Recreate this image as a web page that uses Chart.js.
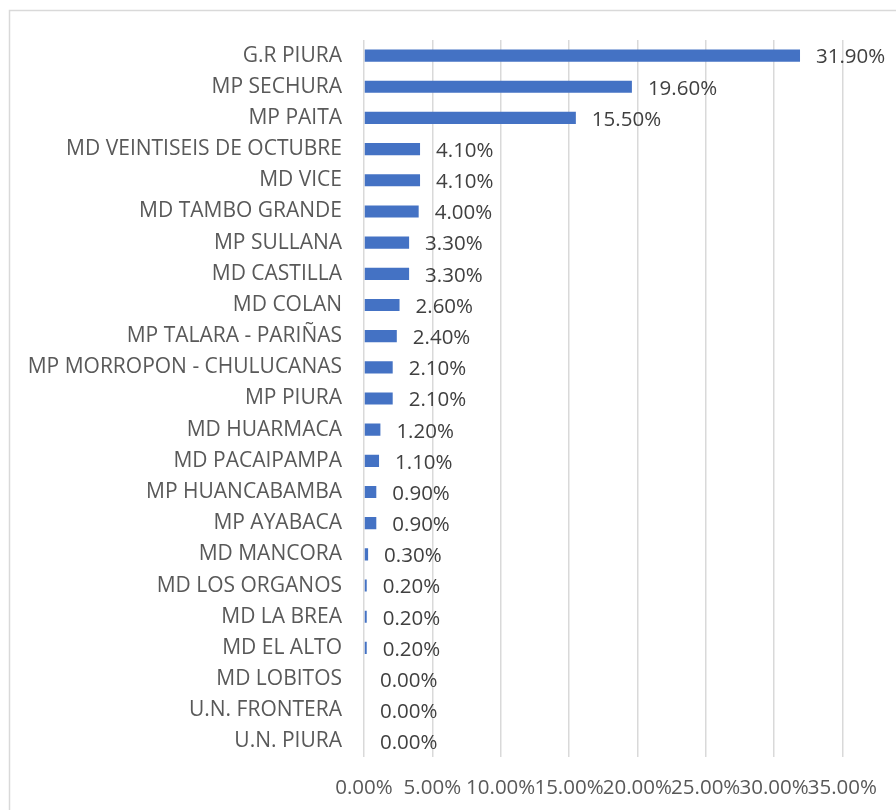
<!DOCTYPE html>
<html>
<head>
<meta charset="utf-8">
<script src="https://cdn.jsdelivr.net/npm/chart.js@4/dist/chart.umd.min.js"></script>
<style>
html,body{margin:0;padding:0;background:#fff;}
#wrap{position:relative;width:896px;height:810px;}
</style>
</head>
<body>
<div id="wrap"><canvas id="c" width="896" height="810"></canvas></div>
<script>
const categories = ["G.R PIURA","MP SECHURA","MP PAITA","MD VEINTISEIS DE OCTUBRE","MD VICE","MD TAMBO GRANDE","MP SULLANA","MD CASTILLA","MD COLAN","MP TALARA - PARIÑAS","MP MORROPON - CHULUCANAS","MP PIURA","MD HUARMACA","MD PACAIPAMPA","MP HUANCABAMBA","MP AYABACA","MD MANCORA","MD LOS ORGANOS","MD LA BREA","MD EL ALTO","MD LOBITOS","U.N. FRONTERA","U.N. PIURA"];
const values = [31.9,19.6,15.5,4.1,4.1,4.0,3.3,3.3,2.6,2.4,2.1,2.1,1.2,1.1,0.9,0.9,0.3,0.2,0.2,0.2,0,0,0];
const xTicks = [0,5,10,15,20,25,30,35];

const FONT = "'Open Sans', Lato, sans-serif";

const borderPlugin = {
  id: 'frame',
  beforeDraw(chart){
    const ctx = chart.ctx;
    ctx.save();
    ctx.fillStyle = '#fff';
    ctx.fillRect(0,0,chart.width,chart.height);
    ctx.strokeStyle = '#d9d9d9';
    ctx.lineWidth = 1.5;
    ctx.strokeRect(9.5,10.5,1000,1000);
    ctx.restore();
  }
};

const labelPlugin = {
  id: 'vlabels',
  afterDatasetsDraw(chart){
    const ctx = chart.ctx;
    const meta = chart.getDatasetMeta(0);
    const xs = chart.scales.x;
    ctx.save();
    ctx.font = "20.5px " + FONT;
    ctx.fillStyle = '#404040';
    ctx.textAlign = 'left';
    ctx.textBaseline = 'middle';
    meta.data.forEach((bar,i)=>{
      const v = values[i];
      const x = xs.getPixelForValue(v) + 16;
      ctx.fillText(v.toFixed(2) + '%', x, bar.y + 2);
    });
    ctx.restore();
  }
};

new Chart(document.getElementById('c'), {
  type: 'bar',
  data: {
    labels: categories,
    datasets: [{
      data: values,
      backgroundColor: '#4472C4',
      borderWidth: 0,
      barPercentage: 0.39,
      categoryPercentage: 1.0
    }]
  },
  options: {
    indexAxis: 'y',
    responsive: false,
    animation: false,
    layout: { padding: { top: 40, right: 49, bottom: 0, left: 0 } },
    plugins: { legend: { display: false }, tooltip: { enabled: false } },
    scales: {
      x: {
        min: 0, max: 35,
        afterBuildTicks(scale){ scale.ticks = xTicks.map(v=>({value:v})); },
        afterFit(scale){ scale.height = 53; },
        grid: { color: '#d9d9d9', lineWidth: 1.5, drawTicks: false },
        border: { display: false },
        ticks: {
          autoSkip: false, maxRotation: 0, minRotation: 0, padding: 19,
          color: '#595959',
          font: { family: FONT, size: 20.5 },
          callback: (v)=> Number(v).toFixed(2) + '%'
        }
      },
      y: {
        afterFit(scale){ scale.width = 364; },
        grid: { display: false, drawTicks: false },
        border: { display: false },
        ticks: {
          autoSkip: false, padding: 22,
          color: '#595959',
          font: { family: FONT, size: 21 }
        }
      }
    }
  },
  plugins: [borderPlugin, labelPlugin]
});
</script>
</body>
</html>
